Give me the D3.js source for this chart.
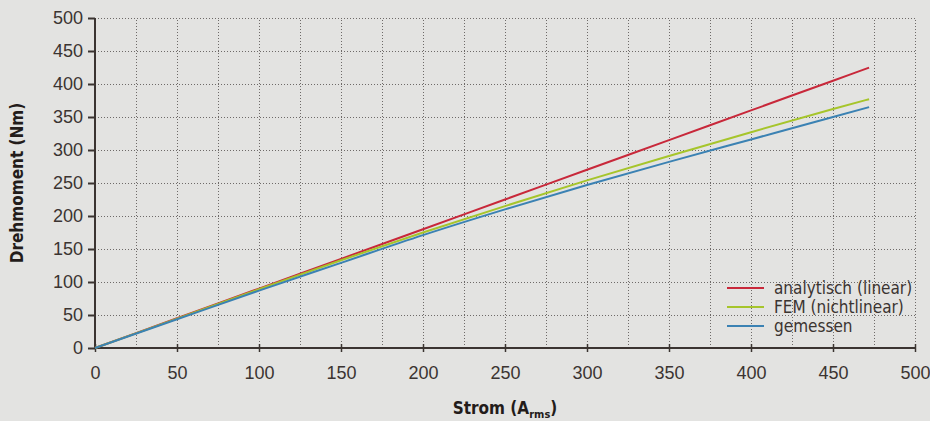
<!DOCTYPE html>
<html>
<head>
<meta charset="utf-8">
<script src="https://cdn.jsdelivr.net/npm/d3@7"></script>
<style>
  body { margin: 0; background: #e3e3e1; }
  svg { display: block; font-family: "Liberation Sans Narrow", "DejaVu Sans Condensed", sans-serif; }
</style>
</head>
<body>
<svg id="chart" width="930" height="421"></svg>
<script>
// Strom (A_rms) vs Drehmoment (Nm)
const strom = [0, 50, 100, 150, 200, 250, 300, 350, 400, 450, 472];
const analytisch = [0, 45, 90, 135, 180, 225, 270, 315, 360, 405, 424.8];
const fem = [0, 44.5, 89, 133, 175, 215, 254, 291, 327, 362, 377];
const gemessen = [0, 43.5, 87, 129, 171, 210, 247, 282, 316, 350, 365];

const xTicks = [0, 50, 100, 150, 200, 250, 300, 350, 400, 450, 500];
const yTicks = [0, 50, 100, 150, 200, 250, 300, 350, 400, 450, 500];
const xGrid = d3.range(25, 501, 25);

const seriesNames = ['analytisch (linear)', 'FEM (nichtlinear)', 'gemessen'];
const seriesColors = ['#c8283a', '#a6c52b', '#3b82b3'];
const seriesValues = [analytisch, fem, gemessen];

const margin = { left: 95, right: 15, top: 18, bottom: 73 };
const width = 930, height = 421;

const svg = d3.select('#chart');

const x = d3.scaleLinear().domain([0, 500]).range([margin.left, width - margin.right]);
const y = d3.scaleLinear().domain([0, 500]).range([height - margin.bottom, margin.top]);

const axisColor = '#3b3431';
const textColor = '#3b3431';

// grid
const grid = svg.append('g')
  .attr('stroke', '#6e6a68')
  .attr('stroke-width', 1)
  .attr('stroke-dasharray', '1,2');

grid.selectAll('line.v')
  .data(xGrid)
  .enter().append('line')
    .attr('x1', d => Math.round(x(d)) + 0.5)
    .attr('x2', d => Math.round(x(d)) + 0.5)
    .attr('y1', y(0))
    .attr('y2', y(500));

grid.selectAll('line.h')
  .data(yTicks.filter(d => d > 0))
  .enter().append('line')
    .attr('x1', x(0))
    .attr('x2', x(500))
    .attr('y1', d => Math.round(y(d)) + 0.5)
    .attr('y2', d => Math.round(y(d)) + 0.5);

// y axis
const yAxis = svg.append('g')
  .attr('transform', `translate(${x(0)},0)`)
  .call(d3.axisLeft(y).tickValues(yTicks).tickSize(7).tickPadding(5));
yAxis.select('.domain').attr('stroke', axisColor).attr('stroke-width', 2).attr('d', `M0,${y(0)}V${y(500)}`);
yAxis.selectAll('.tick line').attr('stroke', axisColor).attr('stroke-width', 2);
yAxis.selectAll('.tick text')
  .attr('fill', textColor)
  .style('font-size', '18px');

// x axis
const xAxis = svg.append('g')
  .attr('transform', `translate(0,${y(0)})`)
  .call(d3.axisBottom(x).tickValues(xTicks).tickSize(4).tickPadding(14));
xAxis.select('.domain').attr('stroke', axisColor).attr('stroke-width', 2).attr('d', `M${x(0)},0H${x(500)}`);
xAxis.selectAll('.tick line').attr('stroke', axisColor).attr('stroke-width', 1.5).attr('y1', -4).attr('y2', 4);
xAxis.selectAll('.tick text')
  .attr('fill', textColor)
  .style('font-size', '18px');

// lines
const line = d3.line()
  .x((d, i) => x(strom[i]))
  .y(d => y(d))
  .curve(d3.curveMonotoneX);

svg.append('g').selectAll('path')
  .data(seriesValues)
  .enter().append('path')
    .attr('fill', 'none')
    .attr('stroke', (d, i) => seriesColors[i])
    .attr('stroke-width', 2)
    .attr('d', line);

// axis titles
svg.append('text')
  .attr('transform', `translate(23,${(y(0) + y(500)) / 2}) rotate(-90)`)
  .attr('text-anchor', 'middle')
  .attr('fill', '#231c1a')
  .style('font-size', '17px')
  .style('font-weight', 'bold')
  .text('Drehmoment (Nm)');

const xt = svg.append('text')
  .attr('x', 505)
  .attr('y', 414)
  .attr('text-anchor', 'middle')
  .attr('fill', '#231c1a')
  .style('font-size', '17px')
  .style('font-weight', 'bold');
xt.append('tspan').text('Strom (A');
xt.append('tspan').attr('dy', 4).style('font-size', '11px').text('rms');
xt.append('tspan').attr('dy', -4).text(')');

// legend
const legend = svg.append('g').attr('transform', 'translate(727,288)');
const item = legend.selectAll('g')
  .data(seriesNames)
  .enter().append('g')
    .attr('transform', (d, i) => `translate(0,${i * 19})`);
item.append('line')
  .attr('x1', 0).attr('x2', 37)
  .attr('stroke', (d, i) => seriesColors[i])
  .attr('stroke-width', 2);
item.append('text')
  .attr('x', 47)
  .attr('dy', '0.35em')
  .attr('fill', textColor)
  .style('font-size', '17px')
  .text(d => d);
</script>
</body>
</html>
